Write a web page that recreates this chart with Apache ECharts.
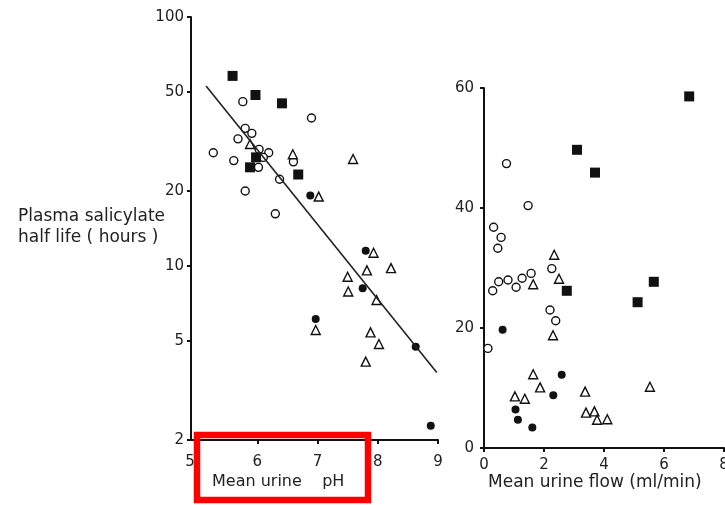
<!DOCTYPE html>
<html>
<head>
<meta charset="utf-8">
<script src="https://cdn.jsdelivr.net/npm/echarts@6/dist/echarts.min.js"></script>
<style>html,body{margin:0;padding:0;background:#fff}#c{width:725px;height:505px}</style>
</head>
<body>
<div id="c"></div>
<script>
// ---- Left panel: Mean urine pH vs plasma salicylate half life (log) ----
const phTicks = [5, 6, 7, 8, 9];
const halfLifeTicks = [2, 5, 10, 20, 50, 100];
const phSquares = [[5.59,58],[5.97,48.6],[6.41,45],[5.98,27.3],[5.88,24.9],[6.68,23.3]];
const phCircles = [[5.76,45.7],[6.9,39.3],[5.8,35.7],[5.91,34.1],[5.68,32.4],[6.03,29.4],[6.19,28.5],[5.27,28.5],[5.61,26.5],[6.02,24.9],[6.37,22.3],[5.8,20.0],[6.6,26.2],[6.1,27.3],[6.3,16.2]];
const phTriangles = [[6.59,28.1],[5.88,30.9],[7.59,26.9],[7.02,19.0],[7.93,11.3],[8.22,9.8],[7.82,9.6],[7.5,9.05],[7.51,7.9],[7.98,7.3],[6.97,5.53],[7.88,5.41],[8.02,4.86],[7.8,4.13]];
const phDots = [[6.88,19.2],[7.80,11.5],[7.75,8.13],[6.97,6.12],[8.63,4.74],[8.88,2.28]];
const phRegression = [[5.15,52.8],[8.98,3.73]];

// ---- Right panel: Mean urine flow vs half life (linear) ----
const flowTicks = [0, 2, 4, 6, 8];
const flowHalfLifeTicks = [0, 20, 40, 60];
const flowSquares = [[6.84,58.6],[3.10,49.7],[3.70,45.9],[2.76,26.2],[5.66,27.7],[5.12,24.3]];
const flowCircles = [[0.75,47.4],[1.47,40.4],[0.32,36.8],[0.57,35.1],[0.46,33.3],[2.26,29.9],[1.57,29.1],[1.27,28.3],[1.07,26.8],[0.80,28.0],[0.49,27.7],[0.29,26.2],[2.20,23.0],[2.39,21.2],[0.13,16.6]];
const flowTriangles = [[2.34,32.2],[2.50,28.2],[1.64,27.3],[2.30,18.8],[1.64,12.3],[1.87,10.1],[3.37,9.4],[5.53,10.2],[1.03,8.6],[1.36,8.2],[3.40,5.9],[3.68,6.1],[3.77,4.7],[4.11,4.8]];
const flowDots = [[0.62,19.7],[2.59,12.2],[2.31,8.8],[1.05,6.4],[1.13,4.7],[1.61,3.4]];

const yTitle = ['Plasma salicylate', 'half life ( hours )'];
const xTitleLeft = 'Mean urine    pH';
const xTitleRight = 'Mean urine flow (ml/min)';

const INK = '#111';
const FONT = 'DejaVu Sans';
const axisLine = {show: true, lineStyle: {color: INK, width: 2}};
const tickStyle = {show: true, length: 4, lineStyle: {color: INK, width: 2}};
const lbl = {color: '#222', fontFamily: FONT, fontSize: 15};

function markers(data, xi, symbol, size, filled) {
  return {
    type: 'scatter', xAxisIndex: xi, yAxisIndex: xi, data: data,
    symbol: symbol, symbolSize: size, silent: true,
    itemStyle: filled ? {color: INK, borderWidth: 0, opacity: 1}
                      : {color: '#fff', borderColor: INK, borderWidth: 1.4, opacity: 1}
  };
}

const chart = echarts.init(document.getElementById('c'), null, {renderer: 'canvas'});
chart.setOption({
  animation: false,
  backgroundColor: '#fff',
  grid: [
    {left: 191, top: 17, width: 247, height: 423, outerBoundsMode: 'none', containLabel: false},
    {left: 484, top: 88, width: 240, height: 360, outerBoundsMode: 'none', containLabel: false}
  ],
  xAxis: [
    {type: 'value', gridIndex: 0, min: 4.9, max: 9, splitLine: {show: false},
     axisLine: axisLine,
     axisTick: Object.assign({}, tickStyle, {customValues: phTicks}),
     axisLabel: Object.assign({}, lbl, {customValues: phTicks, margin: 15,
       formatter: function (v) { return v === phTicks[0] ? '{s|' + v + '}' : String(v); },
       rich: {s: {padding: [0, 14, 0, 0], fontFamily: FONT, fontSize: 15, color: '#222'}}})},
    {type: 'value', gridIndex: 1, min: 0, max: 8, interval: 2, splitLine: {show: false},
     axisLine: axisLine,
     axisTick: Object.assign({}, tickStyle, {customValues: flowTicks}),
     axisLabel: Object.assign({}, lbl, {customValues: flowTicks, margin: 10, showMaxLabel: true})}
  ],
  yAxis: [
    {type: 'log', logBase: 10, gridIndex: 0, min: 2, max: 100, splitLine: {show: false},
     minorTick: {show: false}, minorSplitLine: {show: false},
     axisLine: axisLine,
     axisTick: Object.assign({}, tickStyle, {customValues: halfLifeTicks}),
     axisLabel: Object.assign({}, lbl, {customValues: halfLifeTicks, margin: 7})},
    {type: 'value', gridIndex: 1, min: 0, max: 60, interval: 20, splitLine: {show: false},
     axisLine: axisLine,
     axisTick: Object.assign({}, tickStyle, {customValues: flowHalfLifeTicks}),
     axisLabel: Object.assign({}, lbl, {customValues: flowHalfLifeTicks, margin: 10})}
  ],
  series: [
    {type: 'line', xAxisIndex: 0, yAxisIndex: 0, data: phRegression, symbol: 'none',
     silent: true, lineStyle: {color: '#222', width: 1.6}},
    markers(phCircles, 0, 'circle', 8, false),
    markers(phTriangles, 0, 'triangle', 9, false),
    markers(phSquares, 0, 'rect', 10, true),
    markers(phDots, 0, 'circle', 8, true),
    markers(flowCircles, 1, 'circle', 8, false),
    markers(flowTriangles, 1, 'triangle', 9, false),
    markers(flowSquares, 1, 'rect', 10, true),
    markers(flowDots, 1, 'circle', 8, true)
  ],
  graphic: [
    {type: 'text', left: 18, top: 208, style: {text: yTitle[0], fill: '#222', font: '17px "DejaVu Sans"'}},
    {type: 'text', left: 18, top: 229, style: {text: yTitle[1], fill: '#222', font: '17px "DejaVu Sans"'}},
    {type: 'text', left: 212, top: 474, style: {text: xTitleLeft, fill: '#222', font: '16px "DejaVu Sans"'}},
    {type: 'text', left: 488, top: 474, style: {text: xTitleRight, fill: '#222', font: '17px "DejaVu Sans"'}},
    {type: 'rect', shape: {x: 197, y: 435, width: 171, height: 65},
     style: {fill: 'none', stroke: '#ff0000', lineWidth: 6.5}, z: 100}
  ]
});
</script>
</body>
</html>
